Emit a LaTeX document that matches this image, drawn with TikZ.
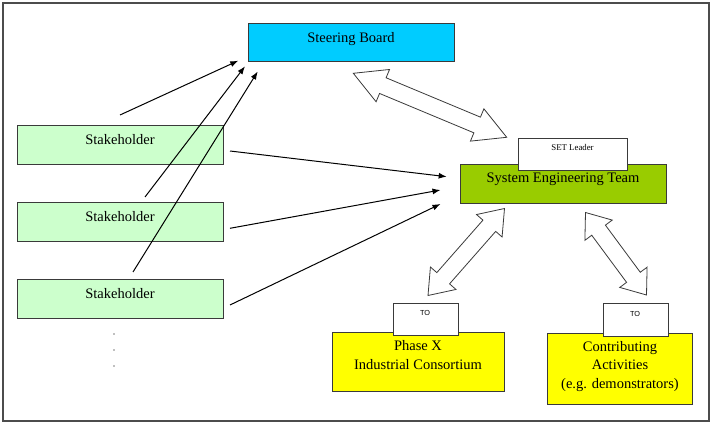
\documentclass[tikz,border=0pt]{standalone}
\usepackage{fontspec}
\setmainfont{Liberation Serif}
\newfontfamily\sansTO{Liberation Sans}
\usetikzlibrary{calc,arrows.meta}
\definecolor{sbcyan}{HTML}{00CCFF}
\definecolor{shgreen}{HTML}{CCFFCC}
\definecolor{setgreen}{HTML}{99CC00}
\definecolor{yel}{HTML}{FFFF00}
\definecolor{edgegray}{HTML}{3A3A3A}
\newcommand\blockarrow[5]{%
  \draw[barrow] (#1) -- ($(#1)!#3!(#2)!#4!90:(#2)$) -- ($(#1)!#3!(#2)!#5!90:(#2)$)
    -- ($(#2)!#3!(#1)!#5!-90:(#1)$) -- ($(#2)!#3!(#1)!#4!-90:(#1)$) -- (#2)
    -- ($(#2)!#3!(#1)!#4!90:(#1)$) -- ($(#2)!#3!(#1)!#5!90:(#1)$)
    -- ($(#1)!#3!(#2)!#5!-90:(#2)$) -- ($(#1)!#3!(#2)!#4!-90:(#2)$) -- cycle;}
\tikzset{
  box/.style={draw=edgegray, line width=0.7pt, inner sep=0pt},
  lbl/.style={inner sep=0pt, anchor=base, font=\fontsize{14.5}{18.5}\selectfont},
  mlbl/.style={inner sep=0pt, anchor=north, align=center, font=\fontsize{14.5}{18.5}\selectfont},
  conn/.style={line width=1pt, -{Latex[length=8pt,width=6pt]}},
  barrow/.style={draw=edgegray, line width=0.8pt, fill=white, line join=miter},
}
\begin{document}
\begin{tikzpicture}[x=1pt,y=-1pt]
\useasboundingbox (0,0) rectangle (713,425);
\draw[line width=1.3pt, black!70] (3,3) rectangle (709,421);

% boxes
\node[box, fill=sbcyan, minimum width=206pt, minimum height=38pt] (sb) at (351,42) {};
\node[box, fill=shgreen, minimum width=206pt, minimum height=39pt] (s1) at (120,144.5) {};
\node[box, fill=shgreen, minimum width=206pt, minimum height=39pt] (s2) at (120,221.5) {};
\node[box, fill=shgreen, minimum width=206pt, minimum height=39pt] (s3) at (120,298.5) {};
\node[box, fill=setgreen, minimum width=206pt, minimum height=39pt] (set) at (563,183.5) {};
\node[box, fill=white, minimum width=109pt, minimum height=32pt] (setl) at (572.5,154) {};
\node[box, fill=yel, minimum width=172pt, minimum height=59pt] (px) at (418,361.5) {};
\node[box, fill=white, minimum width=65pt, minimum height=32pt] (pxto) at (425.5,319) {};
\node[box, fill=yel, minimum width=145pt, minimum height=71pt] (ca) at (619.5,368.5) {};
\node[box, fill=white, minimum width=65pt, minimum height=33pt] (cato) at (635.5,319.5) {};

% labels
\node[lbl] (sbt) at (351,42.3) {Steering Board};
\node[lbl] (s1t) at (120,145) {Stakeholder};
\node[lbl] (s2t) at (120,221.7) {Stakeholder};
\node[lbl] (s3t) at (120,298.5) {Stakeholder};
\node[lbl] (sett) at (563,182.7) {System Engineering Team};
\node[inner sep=0pt, anchor=base, font=\fontsize{8.8}{10}\selectfont] (setlt) at (572.5,151) {SET Leader};
\node[inner sep=0pt, anchor=base, font=\sansTO\fontsize{7.3}{9}\selectfont] (pxtot) at (425,315.5) {TO};
\node[inner sep=0pt, anchor=base, font=\sansTO\fontsize{7.3}{9}\selectfont] (catot) at (635,316.5) {TO};
\node[mlbl] (pxt) at (418,340.6) {Phase X\\Industrial Consortium};
\node[mlbl] (cat) at (620,341) {Contributing\\Activities\\(e.g. demonstrators)};

% dots
\fill[gray] (114,334) circle (0.8pt);
\fill[gray] (114,350) circle (0.8pt);
\fill[gray] (114,366) circle (0.8pt);

% connector end points
\coordinate (a1s) at (120,115);  \coordinate (a1e) at (238.3,60.7);
\coordinate (a2s) at (145,197);  \coordinate (a2e) at (245,66.3);
\coordinate (a3s) at (133,272);  \coordinate (a3e) at (257.7,71.5);
\coordinate (b1s) at (230,151);  \coordinate (b1e) at (446.7,176.7);
\coordinate (b2s) at (230,228.3);\coordinate (b2e) at (440.5,190);
\coordinate (b3s) at (230,305);  \coordinate (b3e) at (440.5,204);

\draw[conn] (a1s) -- (a1e);
\draw[conn] (a2s) -- (a2e);
\draw[conn] (a3s) -- (a3e);
\draw[conn] (b1s) -- (b1e);
\draw[conn] (b2s) -- (b2e);
\draw[conn] (b3s) -- (b3e);

% block double arrows
\coordinate (k1a) at (353.3,73.3); \coordinate (k1b) at (506.7,137.3);
\coordinate (k2a) at (504.5,208.5); \coordinate (k2b) at (428,295.5);
\coordinate (k3a) at (585.5,212.5); \coordinate (k3b) at (646.5,295);
\blockarrow{k1a}{k1b}{32pt}{17.5pt}{8.5pt}
\blockarrow{k2a}{k2b}{23pt}{17pt}{8.5pt}
\blockarrow{k3a}{k3b}{22pt}{17pt}{8.5pt}
\end{tikzpicture}
\end{document}
